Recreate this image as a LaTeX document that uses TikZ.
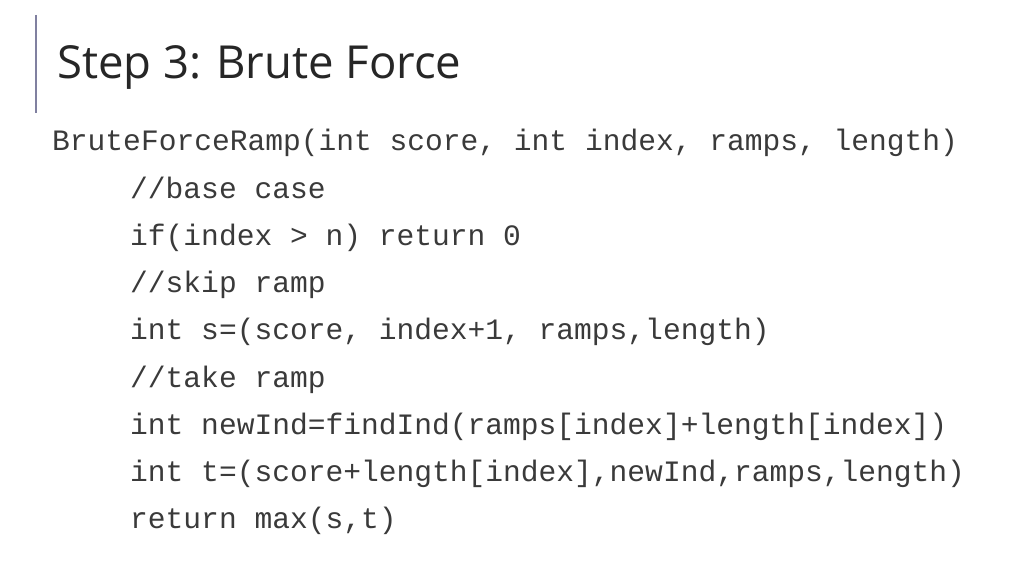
\documentclass[tikz,border=0pt]{standalone}
\usepackage{fontspec}
\setmainfont{Open Sans}
\setmonofont{Liberation Mono}
\definecolor{barcol}{HTML}{8080A0}
\definecolor{codecol}{HTML}{3A3A3A}
\frenchspacing
\begin{document}
\begin{tikzpicture}[x=1pt,y=1pt,
    every node/.style = {inner sep=0pt, anchor=base west},
    code/.style = {font=\fontsize{29.6}{30}\selectfont\ttfamily, text=codecol},
    title/.style = {font=\fontsize{45.5}{46}\selectfont, text=black!85}
    ]
    \useasboundingbox[fill=white] (0,0) rectangle (1024,576);
    \draw[barcol, line width=1.5pt] (36,561) -- (36,463);
    \node[title] (title) at (57,497) {Step 3:\hspace{0.32em}Brute Force};
    \node[code] (head) at (52,425) {BruteForceRamp(int score, int index, ramps, length)};
    % body of the procedure
    \foreach \txt [count=\i] in {{//base case},{if(index > n) return 0},{//skip ramp},
        {int s=(score, index+1, ramps,length)},{//take ramp},
        {int newInd=findInd(ramps[index]+length[index])},
        {int t=(score+length[index],newInd,ramps,length)},{return max(s,t)}}
      \node[code] (line\i) at (130,425-47.2*\i) {\txt};
\end{tikzpicture}
\end{document}
